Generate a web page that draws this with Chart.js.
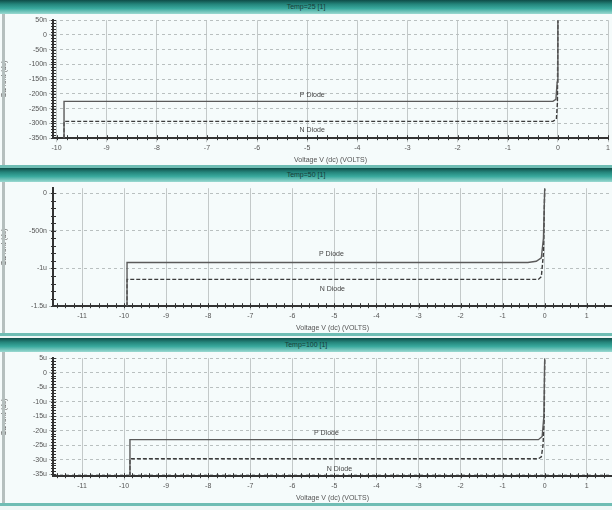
<!DOCTYPE html>
<html>
<head>
<meta charset="utf-8">
<script src="https://cdn.jsdelivr.net/npm/chart.js@4.4.1/dist/chart.umd.min.js"></script>
<style>
  html, body { margin: 0; padding: 0; background: #eef7f6; }
  body { width: 612px; height: 510px; position: relative; overflow: hidden; font-family: "Liberation Sans", Arial, sans-serif; }
  .panel { position: absolute; left: 0; width: 612px; height: 168px; background: #f5fbfb; }
  .bar { position: absolute; left: 0; top: 0; width: 100%; height: 14px; line-height: 13px; font-size: 7px; color: #1a3b38; text-align: center;
         background: linear-gradient(#0f4d48 0%, #24857b 30%, #39a99d 60%, #9bd9d1 100%); }
  .edge { position: absolute; left: 2px; top: 14px; width: 3px; height: 152px; background: #b5bfbe; }
  .foot { position: absolute; left: 0; bottom: 0; width: 100%; height: 3px; background: #6fbdb4; }
  canvas { position: absolute; left: 0; top: 14px; }
</style>
</head>
<body>
<div class="panel" style="top:0px"><div class="bar">Temp=25 [1]</div><canvas id="c1" width="612" height="152"></canvas><div class="edge"></div><div class="foot"></div></div>
<div class="panel" style="top:168px"><div class="bar">Temp=50 [1]</div><canvas id="c2" width="612" height="152"></canvas><div class="edge"></div><div class="foot"></div></div>
<div class="panel" style="top:338px"><div class="bar">Temp=100 [1]</div><canvas id="c3" width="612" height="152"></canvas><div class="edge"></div><div class="foot"></div></div>
<script>
// panel 1 - currents in nA
const volts1P = [-9.85, -9.85, -0.1, -0.04, -0.015, 0];
const amps1P  = [-350, -225, -225, -218, -160, 50];
const volts1N = [-9.85, -9.85, -0.1, -0.03, -0.01, 0];
const amps1N  = [-350, -293, -293, -285, -230, 50];
const xTicks1 = [-10, -9, -8, -7, -6, -5, -4, -3, -2, -1, 0, 1];
const yTicks1 = [50, 0, -50, -100, -150, -200, -250, -300, -350];

// panel 2 - currents in nA
const volts2P = [-9.93, -9.93, -0.4, -0.2, -0.08, -0.03, 0];
const amps2P  = [-1500, -921, -921, -905, -860, -600, 60];
const volts2N = [-9.93, -9.93, -0.15, -0.08, -0.03, 0];
const amps2N  = [-1500, -1145, -1145, -1110, -800, 60];
const xTicks2 = [-11, -10, -9, -8, -7, -6, -5, -4, -3, -2, -1, 0, 1];
const yTicks2 = [0, -500, -1000, -1500];

// panel 3 - currents in uA
const volts3P = [-9.86, -9.86, -0.15, -0.06, -0.02, 0];
const amps3P  = [-35.6, -23.1, -23.1, -22, -15, 5];
const volts3N = [-9.86, -9.86, -0.15, -0.08, -0.04, -0.01, 0];
const amps3N  = [-35.6, -29.7, -29.7, -29, -25, -15, 5];
const xTicks3 = xTicks2;
const yTicks3 = [5, 0, -5, -10, -15, -20, -25, -30, -35];

// labels of the two curves
const curveNames = ["P Diode", "N Diode"];
const labelPos1 = [[-4.9, -205], [-4.9, -323]];
const labelPos2 = [[-5.07, -808], [-5.05, -1269]];
const labelPos3 = [[-5.19, -20.9], [-4.88, -33.1]];

function toPoints(xs, ys) {
  return xs.map((x, i) => ({ x: x, y: ys[i] }));
}

function fmtNano(v) {
  if (v === 0) return "0";
  if (Math.abs(v) >= 1000) return (v / 1000) + "u";
  return v + "n";
}
function fmtMicro(v) {
  if (v === 0) return "0";
  return v + "u";
}

// small ticks along the axes + curve labels
const decoPlugin = {
  id: "deco",
  afterDraw(chart) {
    const ctx = chart.ctx;
    const xs = chart.scales.x, ys = chart.scales.y;
    const a = chart.chartArea;
    const o = chart.options.plugins.deco;
    ctx.save();
    ctx.strokeStyle = "#333";
    ctx.lineWidth = 1;
    ctx.beginPath();
    for (let v = Math.ceil(xs.min / o.xMinor) * o.xMinor; v <= xs.max; v += o.xMinor) {
      const px = Math.round(xs.getPixelForValue(v)) + 0.5;
      ctx.moveTo(px, a.bottom - 3);
      ctx.lineTo(px, a.bottom + 2);
    }
    for (let v = Math.ceil(ys.min / o.yMinor) * o.yMinor; v <= ys.max; v += o.yMinor) {
      const py = Math.round(ys.getPixelForValue(v)) + 0.5;
      ctx.moveTo(a.left - 2, py);
      ctx.lineTo(a.left + 3, py);
    }
    ctx.stroke();
    ctx.fillStyle = "#444";
    ctx.font = "7px 'Liberation Sans', Arial, sans-serif";
    ctx.textAlign = "center";
    ctx.textBaseline = "middle";
    o.labels.forEach((p, i) => {
      ctx.fillText(curveNames[i], xs.getPixelForValue(p[0]), ys.getPixelForValue(p[1]));
    });
    ctx.restore();
  }
};

function makeChart(id, p) {
  new Chart(document.getElementById(id), {
    type: "scatter",
    data: {
      datasets: [
        { label: "P Diode", data: toPoints(p.vP, p.iP), showLine: true, borderColor: "#5a5a5a", borderWidth: 1.4, pointRadius: 0 },
        { label: "N Diode", data: toPoints(p.vN, p.iN), showLine: true, borderColor: "#3c3c3c", borderWidth: 1.4, borderDash: [4, 2], pointRadius: 0 }
      ]
    },
    options: {
      responsive: false,
      animation: false,
      layout: { padding: { top: p.padTop, right: 0, bottom: 0, left: 0 } },
      plugins: {
        legend: { display: false },
        tooltip: { enabled: false },
        deco: { xMinor: 0.2, yMinor: p.yMinor, labels: p.labels }
      },
      scales: {
        x: {
          type: "linear",
          min: p.xMin, max: p.xMax,
          afterBuildTicks: s => { s.ticks = p.xTicks.map(v => ({ value: v })); },
          grid: { color: "#c3c9c9", tickLength: 4 },
          border: { color: "#333", width: 2 },
          ticks: { font: { size: 7 }, color: "#555", maxRotation: 0, autoSkip: false, padding: 2 },
          title: { display: true, text: "Voltage V (dc) (VOLTS)", font: { size: 7 }, color: "#555", padding: { top: 1, bottom: 2 } }
        },
        y: {
          min: p.yMin, max: p.yMax,
          afterBuildTicks: s => { s.ticks = p.yTicks.map(v => ({ value: v })); },
          afterFit: s => { s.width = 53; },
          grid: { color: "#b9c0c0", tickLength: 4 },
          border: { color: "#333", width: 2, dash: [3, 3] },
          ticks: { font: { size: 7 }, color: "#555", autoSkip: false, padding: 2, callback: p.fmt },
          title: { display: true, text: "Current (dc)", font: { size: 7 }, color: "#555", padding: 0 }
        }
      }
    },
    plugins: [decoPlugin]
  });
}

makeChart("c1", { vP: volts1P, iP: amps1P, vN: volts1N, iN: amps1N, xTicks: xTicks1, yTicks: yTicks1,
  xMin: -10.07, xMax: 1, yMin: -350, yMax: 50, yMinor: 10, fmt: fmtNano, labels: labelPos1, padTop: 1 });
makeChart("c2", { vP: volts2P, iP: amps2P, vN: volts2N, iN: amps2N, xTicks: xTicks2, yTicks: yTicks2,
  xMin: -11.69, xMax: 1.6, yMin: -1500, yMax: 64, yMinor: 100, fmt: fmtNano, labels: labelPos2, padTop: 3 });
makeChart("c3", { vP: volts3P, iP: amps3P, vN: volts3N, iN: amps3N, xTicks: xTicks3, yTicks: yTicks3,
  xMin: -11.69, xMax: 1.6, yMin: -35.7, yMax: 5, yMinor: 1, fmt: fmtMicro, labels: labelPos3, padTop: 0 });
</script>
</body>
</html>
